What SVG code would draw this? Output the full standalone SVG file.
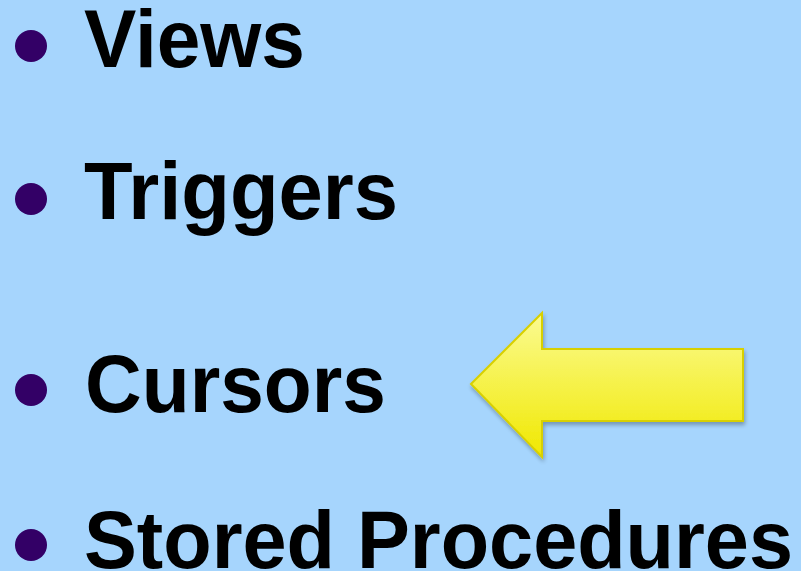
<svg xmlns="http://www.w3.org/2000/svg" width="801" height="571" viewBox="0 0 801 571">
<style>
.t{font-family:"Liberation Sans",Arial,sans-serif;font-weight:bold;font-size:81px;fill:#000}
.b{fill:#330066}
</style>
<defs>
<linearGradient id="yg" x1="0" y1="0" x2="0" y2="1">
<stop offset="0" stop-color="#fbfb92"/>
<stop offset="1" stop-color="#f0e800"/>
</linearGradient>
<filter id="sh" x="-10%" y="-10%" width="130%" height="130%">
<feGaussianBlur in="SourceAlpha" stdDeviation="2"/>
<feOffset dx="1" dy="3"/>
<feComponentTransfer><feFuncA type="linear" slope="0.3"/></feComponentTransfer>
<feMerge><feMergeNode/><feMergeNode in="SourceGraphic"/></feMerge>
</filter>
</defs>
<rect width="801" height="571" fill="#a6d5fd"/>
<g id="views"><circle class="b" cx="31" cy="46" r="16"/><text class="t" x="84" y="67" textLength="221" lengthAdjust="spacingAndGlyphs">Views</text></g>
<g id="triggers"><circle class="b" cx="31" cy="199" r="16"/><text class="t" x="84" y="219" textLength="314" lengthAdjust="spacingAndGlyphs">Triggers</text></g>
<g id="cursors"><circle class="b" cx="31" cy="390" r="16"/><text class="t" x="85" y="412" textLength="301" lengthAdjust="spacingAndGlyphs">Cursors</text></g>
<g id="stored"><circle class="b" cx="31" cy="545" r="16"/><text class="t" x="84" y="568" textLength="709" lengthAdjust="spacingAndGlyphs">Stored Procedures</text></g>
<g id="arrow"><path d="M471,384 L542,313 L542,349 L743,349 L743,421 L542,421 L542,457 Z" fill="url(#yg)" stroke="#d8d000" stroke-width="2" stroke-linejoin="miter" filter="url(#sh)"/></g>
</svg>
